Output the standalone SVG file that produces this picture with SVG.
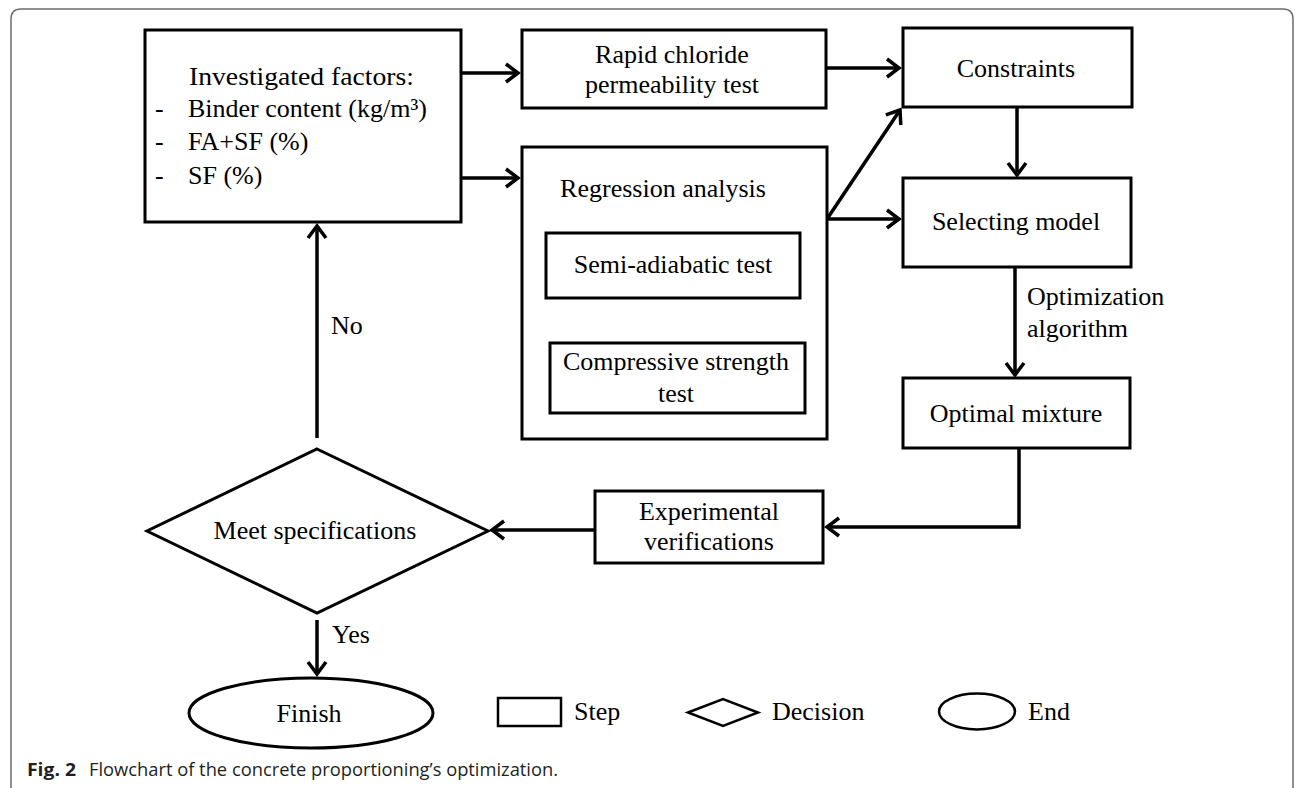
<svg xmlns="http://www.w3.org/2000/svg" width="1295" height="788" viewBox="0 0 1295 788">
<style>
.box{fill:#fff;stroke:#000;stroke-width:3}
.shape{fill:#fff;stroke:#000;stroke-width:3}
.lg{fill:#fff;stroke:#000;stroke-width:2.5}
.t{font-family:"Liberation Serif","Times New Roman",serif;font-size:26px;fill:#000}
.c{text-anchor:middle}
.conn{fill:none;stroke:#000;stroke-width:3.5;marker-end:url(#arr)}
.cap{font-family:"Open Sans","Noto Sans","Liberation Sans",sans-serif;font-size:17.5px;fill:#231f20}
</style>
<defs>
<marker id="arr" markerUnits="userSpaceOnUse" markerWidth="30" markerHeight="30" refX="0" refY="0" viewBox="-15 -15 30 30" orient="auto" overflow="visible">
<path d="M-12,-9 L0,0 L-12,9" fill="none" stroke="#000" stroke-width="3.5" stroke-linejoin="miter"/>
</marker>
</defs>
<rect x="0" y="0" width="1295" height="788" fill="#fff"/>
<path d="M11,800 L11,19 Q11,9 21,9 L1283,9 Q1293,9 1293,19 L1293,800" fill="none" stroke="#6b6b6b" stroke-width="1.5"/>

<g id="connectors">
<path class="conn" d="M461,73 L518,73"/>
<path class="conn" d="M461,178 L518,178"/>
<path class="conn" d="M826,68 L899,68"/>
<path class="conn" d="M827,219 L900,110"/>
<path class="conn" d="M827,219 L899,219"/>
<path class="conn" d="M1017,107 L1017,175"/>
<path class="conn" d="M1015,267 L1015,375"/>
<path class="conn" d="M1019,448 L1019,527 L827,527"/>
<path class="conn" d="M595,530 L492,530"/>
<path class="conn" d="M317,438 L317,226"/>
<path class="conn" d="M317,620 L317,674"/>
</g>

<g id="factors">
<rect class="box" x="145" y="30" width="316" height="192"/>
<text class="t" x="189" y="85" textLength="225" lengthAdjust="spacingAndGlyphs">Investigated factors:</text>
<text class="t" x="155" y="117">-</text><text class="t" x="188" y="117">Binder content (kg/m³)</text>
<text class="t" x="155" y="150">-</text><text class="t" x="188" y="150">FA+SF (%)</text>
<text class="t" x="155" y="184">-</text><text class="t" x="188" y="184">SF (%)</text>
</g>

<g id="rapid">
<rect class="box" x="522" y="30" width="304" height="78"/>
<text class="t c" x="672" y="63">Rapid chloride</text>
<text class="t c" x="672" y="93">permeability test</text>
</g>

<g id="regression">
<rect class="box" x="522" y="147" width="305" height="292"/>
<text class="t c" x="663" y="197">Regression analysis</text>
</g>

<g id="semi">
<rect class="box" x="546" y="233" width="254" height="65"/>
<text class="t c" x="673" y="273">Semi-adiabatic test</text>
</g>

<g id="compressive">
<rect class="box" x="550" y="343" width="255" height="70"/>
<text class="t c" x="676" y="370">Compressive strength</text>
<text class="t c" x="676" y="402">test</text>
</g>

<g id="constraints">
<rect class="box" x="903" y="28" width="229" height="79"/>
<text class="t c" x="1016" y="77">Constraints</text>
</g>

<g id="selecting">
<rect class="box" x="903" y="178" width="228" height="89"/>
<text class="t c" x="1016" y="230">Selecting model</text>
</g>

<g id="optlabel">
<text class="t" x="1027" y="305">Optimization</text>
<text class="t" x="1027" y="337">algorithm</text>
</g>

<g id="optimal">
<rect class="box" x="903" y="378" width="227" height="70"/>
<text class="t c" x="1016" y="422">Optimal mixture</text>
</g>

<g id="experimental">
<rect class="box" x="595" y="491" width="228" height="72"/>
<text class="t c" x="709" y="520">Experimental</text>
<text class="t c" x="709" y="550">verifications</text>
</g>

<g id="decision">
<polygon class="shape" points="317,449 488,531 317,613 147,531"/>
<text class="t c" x="315" y="539">Meet specifications</text>
</g>

<g id="labels">
<text class="t" x="331" y="334">No</text>
<text class="t" x="332" y="643">Yes</text>
</g>

<g id="finish">
<ellipse class="shape" cx="311" cy="713" rx="122" ry="35"/>
<text class="t c" x="309" y="722">Finish</text>
</g>

<g id="legend">
<rect class="lg" x="498" y="698" width="63" height="28"/>
<text class="t" x="574" y="720">Step</text>
<polygon class="lg" points="688,712.5 723,699 758,712.5 723,726"/>
<text class="t" x="772" y="720">Decision</text>
<ellipse class="lg" cx="977" cy="711.5" rx="38" ry="18"/>
<text class="t" x="1028" y="720">End</text>
</g>

<g id="caption">
<text class="cap" x="27" y="776" font-weight="bold" font-size="18.5px" textLength="49" lengthAdjust="spacingAndGlyphs">Fig. 2</text>
<text class="cap" x="89" y="776" textLength="469" lengthAdjust="spacingAndGlyphs">Flowchart of the concrete proportioning’s optimization.</text>
</g>
</svg>
